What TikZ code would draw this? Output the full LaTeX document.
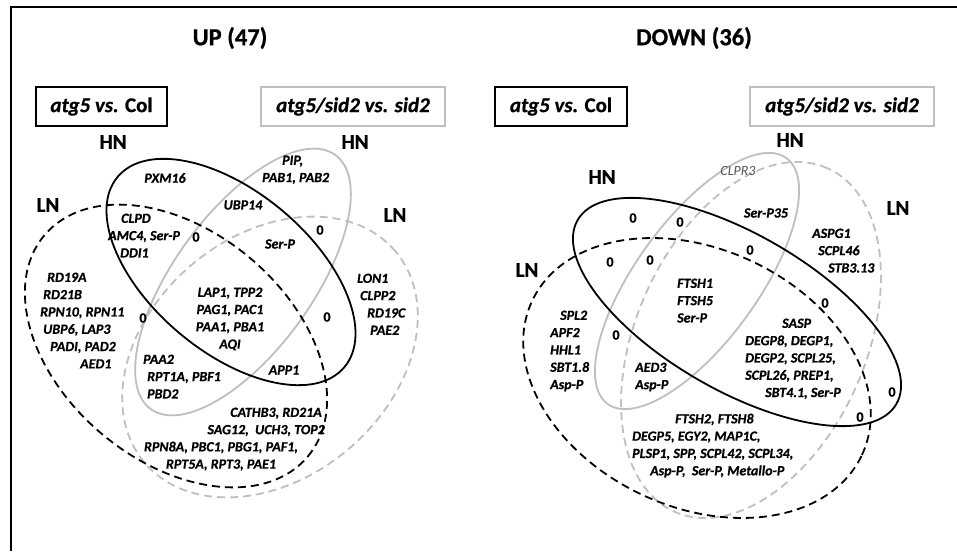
\documentclass[tikz,border=0pt]{standalone}
\usepackage{fontspec}
\setmainfont{Carlito}[BoldFeatures={FakeBold=0.7},BoldItalicFeatures={FakeBold=0.7}]
\usetikzlibrary{shapes.geometric}
\definecolor{lgray}{RGB}{191,191,191}
\definecolor{dgray}{RGB}{85,85,85}
\begin{document}
\begin{tikzpicture}[x=1pt,y=1pt,
  venn/.style={ellipse, inner sep=0pt, outer sep=0pt, line width=1.8pt},
  blk/.style={venn, draw=black},
  gry/.style={venn, draw=lgray},
  dsh/.style={dash pattern=on 8pt off 5pt},
  gene/.style={font=\fontsize{14}{17.3}\selectfont\bfseries\itshape, inner sep=0pt},
  zero/.style={font=\fontsize{14}{17}\selectfont\bfseries, inner sep=0pt},
  lbl/.style={font=\fontsize{21}{25}\selectfont\bfseries, inner sep=0pt},
  ttl/.style={font=\fontsize{24.5}{29}\selectfont\bfseries, inner sep=0pt},
  cmpbox/.style={font=\fontsize{21}{25}\selectfont\bfseries, minimum height=39pt, inner sep=0pt, line width=1.5pt}
]
\useasboundingbox (0,0) rectangle (957,-551);
\fill[white] (0,0) rectangle (957,-551);
\draw[line width=2.2pt] (11,-551) -- (11,-7) -- (957,-7);

% ---------------- UP ----------------
\node[ttl] (upt) at (230,-38) {UP (47)};
\node[cmpbox, draw=black, minimum width=131pt] (upb1) at (101.5,-106.5) {\textit{atg5 vs.} Col};
\node[cmpbox, draw=lgray, minimum width=184pt] (upb2) at (353,-106.5) {\textit{atg5/sid2 vs. sid2}};
\node[lbl] (uphn1) at (113,-142) {HN};
\node[lbl] (uphn2) at (355,-142) {HN};
\node[lbl] (upln1) at (48,-205) {LN};
\node[lbl] (upln2) at (395,-215) {LN};

\node[gry, dsh, minimum width=328pt, minimum height=242pt, rotate=40] (ulB) at (270,-357) {};
\node[gry, minimum width=314pt, minimum height=138pt, rotate=54] (uhB) at (243,-282) {};
\node[blk, dsh, minimum width=344pt, minimum height=230pt, rotate=-40] (ulA) at (176,-346) {};
\node[blk, minimum width=296pt, minimum height=160pt, rotate=-40] (uhA) at (231,-272) {};

\node[gene] (u1) at (165,-178) {PXM16};
\node[gene, align=left, anchor=north west] (u2) at (262,-155.5) {\hspace*{20pt}PIP,\\PAB1, PAB2};
\node[gene] (u3) at (243,-205) {UBP14};
\node[gene, align=left, anchor=north west] (u4) at (108,-213.5) {\hspace*{13pt}CLPD\\AMC4, Ser-P\\\hspace*{12pt}DDI1};
\node[gene] (u5) at (280,-244) {Ser-P};
\node[gene, align=center] (u6) at (230,-319) {LAP1, TPP2\\PAG1, PAC1\\PAA1, PBA1\\AQI};
\node[gene, align=left, anchor=north west] (u7) at (357,-273.5) {LON1\\\hspace*{3pt}CLPP2\\\hspace*{10pt}RD19C\\\hspace*{13pt}PAE2};
\node[gene, align=left, anchor=north west] (u8) at (40,-272.5) {\hspace*{7pt}RD19A\\\hspace*{3pt}RD21B\\RPN10, RPN11\\\hspace*{3pt}UBP6, LAP3\\\hspace*{10pt}PADI, PAD2\\\hspace*{40pt}AED1};
\node[gene, align=left, anchor=north west] (u9) at (143,-354.5) {PAA2\\\hspace*{4pt}RPT1A, PBF1\\\hspace*{4pt}PBD2};
\node[gene] (u10) at (284,-370) {APP1};
\node[gene, align=right, anchor=north east] (u11) at (325,-407.5) {CATHB3, RD21A\hspace*{3pt}\\SAG12,\ \ UCH3, TOP2};
\node[gene, align=center, anchor=north] (u12) at (221,-441.5) {RPN8A, PBC1, PBG1, PAF1,\\RPT5A, RPT3, PAE1};
\node[zero] (uz1) at (196,-237) {0};
\node[zero] (uz2) at (320,-230) {0};
\node[zero] (uz3) at (143,-318) {0};
\node[zero] (uz4) at (327,-317) {0};

% ---------------- DOWN ----------------
\node[ttl] (dnt) at (694,-38) {DOWN (36)};
\node[cmpbox, draw=black, minimum width=132pt] (dnb1) at (561,-106.5) {\textit{atg5 vs.} Col};
\node[cmpbox, draw=lgray, minimum width=184pt] (dnb2) at (842,-106.5) {\textit{atg5/sid2 vs. sid2}};
\node[lbl] (dnhn2) at (790,-140) {HN};
\node[lbl] (dnhn1) at (602,-177) {HN};
\node[lbl] (dnln1) at (527,-270) {LN};
\node[lbl] (dnln2) at (898,-208) {LN};

\node[gry, dsh, minimum width=376pt, minimum height=230pt, rotate=66] (dlB) at (751,-340) {};
\node[gry, minimum width=304pt, minimum height=122pt, rotate=54] (dhB) at (697,-281) {};
\node[blk, dsh, minimum width=364pt, minimum height=258pt, rotate=-25] (dlA) at (697,-378) {};
\node[blk, minimum width=368pt, minimum height=156pt, rotate=-30] (dhA) at (737,-312) {};

\node[font=\fontsize{14}{17}\selectfont\itshape, text=dgray, inner sep=0pt] (d1) at (738,-171) {CLPR3};
\node[gene] (d2) at (766,-213) {Ser-P35};
\node[gene, align=left, anchor=north west] (d3) at (812,-228.5) {ASPG1\\\hspace*{6pt}SCPL46\\\hspace*{16pt}STB3.13};
\node[gene, align=left, anchor=north west] (d4) at (677,-278.5) {FTSH1\\FTSH5\\Ser-P};
\node[gene, align=left, anchor=north west] (d5) at (550,-310.5) {\hspace*{10pt}SPL2\\APF2\\HHL1\\SBT1.8\\Asp-P};
\node[gene, align=left, anchor=north west] (d6) at (635,-362.5) {AED3\\Asp-P};
\node[gene, align=left, anchor=north west] (d7) at (745,-318.5) {\hspace*{37pt}SASP\\DEGP8, DEGP1,\\DEGP2, SCPL25,\\SCPL26, PREP1,\\\hspace*{20pt}SBT4.1, Ser-P};
\node[gene, align=left, anchor=north west] (d8) at (632,-413.5) {\hspace*{43pt}FTSH2, FTSH8\\DEGP5, EGY2, MAP1C,\\PLSP1, SPP, SCPL42, SCPL34,\\\hspace*{18pt}Asp-P,\ \ Ser-P, Metallo-P};
\node[zero] (dz1) at (633,-218) {0};
\node[zero] (dz2) at (680,-222) {0};
\node[zero] (dz3) at (610,-262) {0};
\node[zero] (dz4) at (650,-260) {0};
\node[zero] (dz5) at (616,-335) {0};
\node[zero] (dz6) at (750,-250) {0};
\node[zero] (dz7) at (825,-303) {0};
\node[zero] (dz8) at (892,-392) {0};
\node[zero] (dz9) at (860,-417) {0};
\end{tikzpicture}
\end{document}
